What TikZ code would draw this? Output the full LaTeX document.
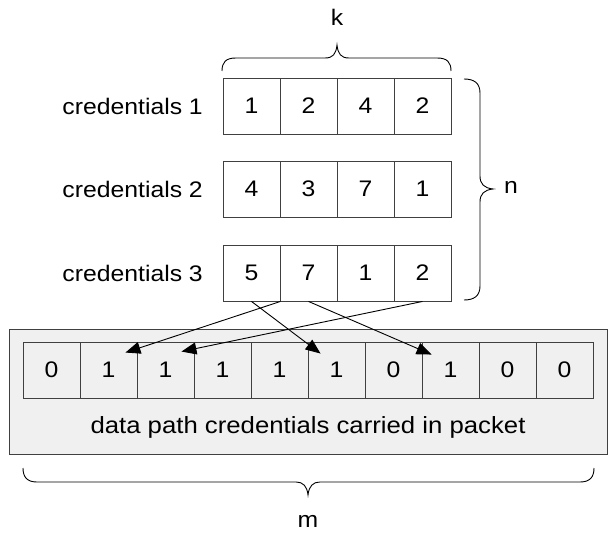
\documentclass[tikz,border=0pt]{standalone}
\usepackage{fontspec}
\setmainfont{Liberation Sans}[FakeStretch=1.1]
\usetikzlibrary{arrows.meta}
\definecolor{boxgray}{HTML}{F0F0F0}
\definecolor{edgegray}{HTML}{404040}
\begin{document}
\begin{tikzpicture}[x=1pt,y=-1pt,
  cell/.style={draw=edgegray,line width=0.9pt,minimum width=57pt,minimum height=56pt,inner sep=0pt,font=\fontsize{22.5}{26}\selectfont},
  lbl/.style={inner sep=0pt,font=\fontsize{22.5}{26}\selectfont},
  brc/.style={line width=0.9pt,black},
  conn/.style={line width=0.9pt,-{Triangle[length=15pt,width=12pt]}}]
\useasboundingbox (0,0) rectangle (610,534);
% packet box
\node[draw=edgegray,fill=boxgray,line width=1pt,minimum width=598pt,minimum height=124pt,inner sep=0pt] (pkt) at (308,392) {};
% credential rows
\foreach \r/\y/\a/\b/\c/\d in {1/106/1/2/4/2, 2/189/4/3/7/1, 3/273/5/7/1/2}{
  \node[cell] (c\r1) at (251.5,\y) {\a};
  \node[cell] (c\r2) at (308.5,\y) {\b};
  \node[cell] (c\r3) at (365.5,\y) {\c};
  \node[cell] (c\r4) at (422.5,\y) {\d};
  \node[lbl,anchor=east] (l\r) at (203,\y) {credentials \r};
}
% bit cells
\foreach \i/\v in {1/0,2/1,3/1,4/1,5/1,6/1,7/0,8/1,9/0,10/0}{
  \node[cell] (b\i) at ({23+57*(\i-1)+28.5},370) {\v};
}
\node[lbl,font=\fontsize{23.4}{27}\selectfont] (ptext) at (308,427) {data path credentials carried in packet};
% labels
\node[lbl] (k) at (337,17) {k};
\node[lbl] (n) at (511,187) {n};
\node[lbl] (m) at (308,521) {m};
% top brace k
\draw[brc] (222,71) .. controls (222,62) and (226,58) .. (236,58) -- (325,58)
  .. controls (333,58) and (336,54) .. (337,45)
  .. controls (338,54) and (341,58) .. (349,58) -- (437,58)
  .. controls (447,58) and (451,62) .. (451,71);
% right brace n
\draw[brc] (464,79) .. controls (474,79) and (480,83) .. (480,93) -- (480,176)
  .. controls (480,184) and (484,188) .. (493,189)
  .. controls (484,190) and (480,194) .. (480,202) -- (480,286)
  .. controls (480,296) and (474,300) .. (464,300);
% bottom brace m
\draw[brc] (23,468) .. controls (23,477) and (27,482) .. (37,482) -- (296,482)
  .. controls (303,482) and (307,486) .. (308,495)
  .. controls (309,486) and (313,482) .. (320,482) -- (580,482)
  .. controls (590,482) and (594,477) .. (594,468);
% arrow targets
\coordinate (t1) at ([xshift=13pt,yshift=-12pt]b6.north west);
\coordinate (t2) at ([xshift=-12pt,yshift=-11pt]b2.north east);
\coordinate (t3) at ([xshift=-13pt,yshift=-10pt]b3.north east);
\coordinate (t4) at ([xshift=10pt,yshift=-13pt]b8.north west);
% connectors
\draw[conn] (c31.south) -- (t1);
\draw[conn] (c31.south east) -- (t2);
\draw[conn] (c34.south) -- (t3);
\draw[conn] (c32.south) -- (t4);
\end{tikzpicture}
\end{document}
